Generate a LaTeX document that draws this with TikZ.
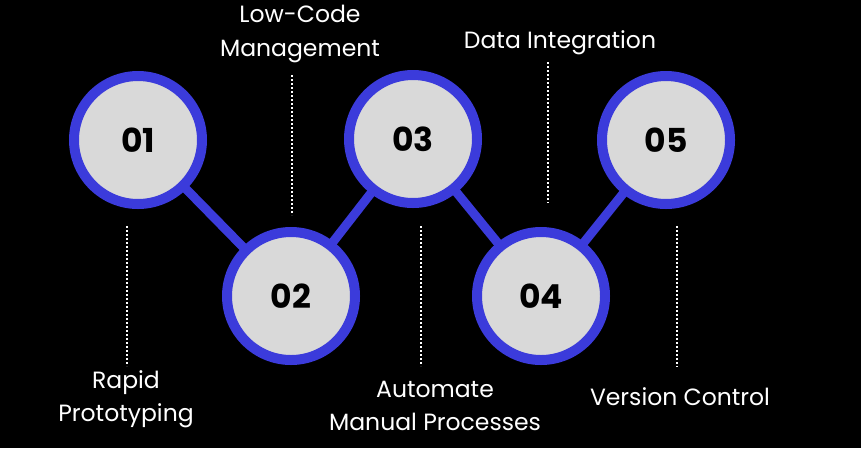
\documentclass[tikz,border=0pt]{standalone}
\usepackage{fontspec}
\setmainfont{Poppins}
\definecolor{ringblue}{HTML}{3B3BDB}
\definecolor{discgray}{HTML}{D9D9D9}
\begin{document}
\begin{tikzpicture}[x=1pt,y=-1pt,
  disc/.style={circle,draw=ringblue,line width=10pt,fill=discgray,minimum size=128pt,inner sep=0pt,font=\fontsize{33}{35}\selectfont\bfseries,text=black},
  link/.style={draw=ringblue,line width=9pt},
  dots/.style={draw=white,line width=2pt,dash pattern=on 2pt off 2pt},
  lbl/.style={text=white,font=\fontsize{23.5}{33.5}\selectfont,align=center,inner sep=0pt}]
\fill[black] (0,0) rectangle (861,448);
\useasboundingbox (0,0) rectangle (861,448);
\coordinate (c1) at (138,140);
\coordinate (c2) at (291,296);
\coordinate (c3) at (413,139);
\coordinate (c4) at (541,296);
\coordinate (c5) at (666,140);
\draw[link] (c1) -- (c2) -- (c3) -- (c4) -- (c5);
\node[disc] (n1) at (c1) {01};
\node[disc] (n2) at (c2) {02};
\node[disc] (n3) at (c3) {03};
\node[disc] (n4) at (c4) {04};
\node[disc] (n5) at (c5) {05};
% dotted leaders
\coordinate (d1a) at (127,226); \coordinate (d1b) at (127,366);
\coordinate (d2a) at (292,75);  \coordinate (d2b) at (292,215);
\coordinate (d3a) at (421,226); \coordinate (d3b) at (421,366);
\coordinate (d4a) at (548,62);  \coordinate (d4b) at (548,203);
\coordinate (d5a) at (677,226); \coordinate (d5b) at (677,367);
\draw[dots] (d1a) -- (d1b);
\draw[dots] (d2a) -- (d2b);
\draw[dots] (d3a) -- (d3b);
\draw[dots] (d4a) -- (d4b);
\draw[dots] (d5a) -- (d5b);
% labels
\node[lbl] (l1) at (126,399) {Rapid\\Prototyping};
\node[lbl] (l2) at (300,34) {Low-Code\\Management};
\node[lbl] (l3) at (435,406) {Automate\\Manual Processes};
\node[lbl] (l4) at (560,43) {Data Integration};
\node[lbl] (l5) at (680,397) {Version Control};
\end{tikzpicture}
\end{document}
